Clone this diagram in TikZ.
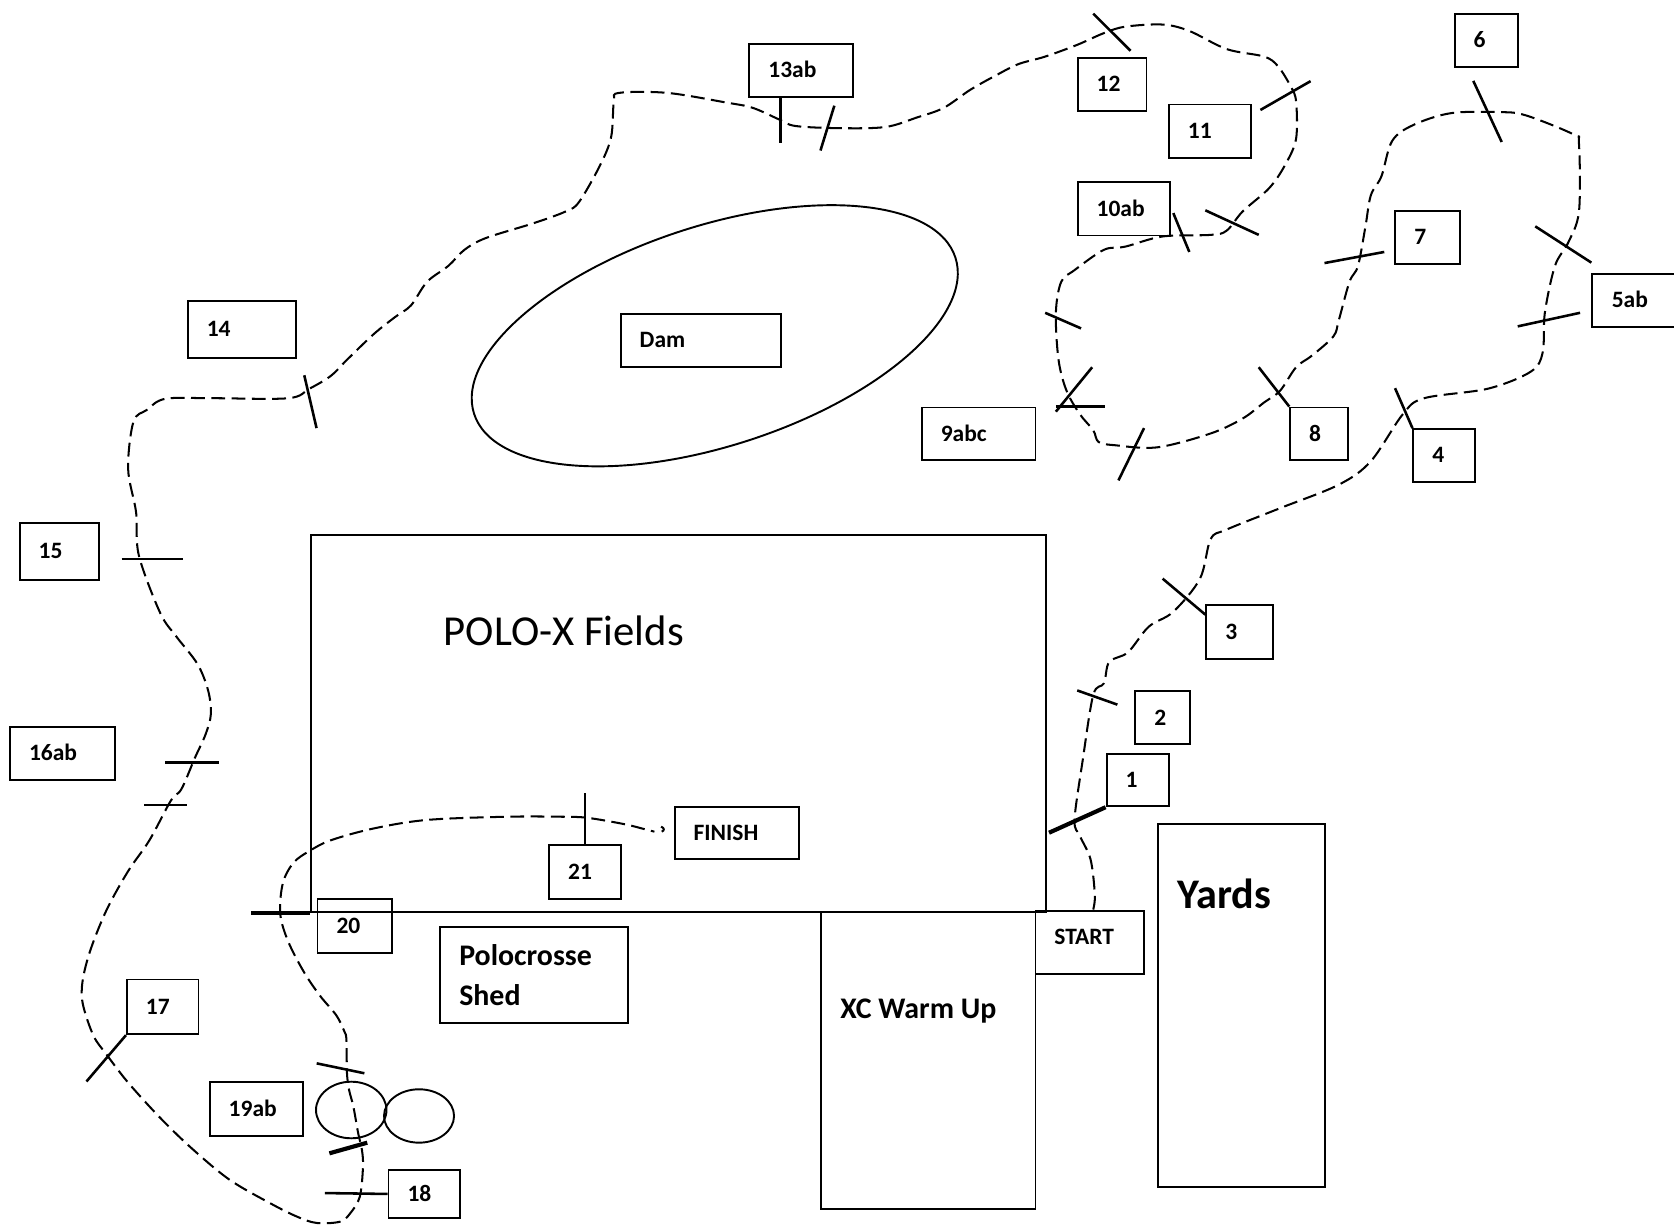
\documentclass[tikz,border=0pt]{standalone}
\usepackage{fontspec}
\setmainfont{Carlito}
\usetikzlibrary{calc}
\newcommand\bx[5]{\node[box, minimum width={#4-#2}, minimum height={#5-#3}] (#1) at (#2,#3) {};}
\begin{document}
\begin{tikzpicture}[x=1pt,y=-1pt,
  box/.style={draw, line width=1.8pt, inner sep=0pt, anchor=north west},
  lbl/.style={anchor=base west, inner sep=0pt, font=\fontsize{22}{26}\selectfont\bfseries},
  big/.style={anchor=base west, inner sep=0pt, font=\fontsize{28}{33}\selectfont\bfseries},
  route/.style={line width=1.9pt, dash pattern=on 13pt off 6pt},
  tk/.style={line width=2.4pt},
  tkk/.style={line width=3.9pt},
  shape line/.style={line width=1.8pt}]
\useasboundingbox (0,0) rectangle (1568,1148);
% ---- areas ----
\bx{field}{290}{500}{979}{853.6}
\bx{xc}{768.5}{853.6}{969}{1131.5}
\bx{start}{969}{852}{1070.6}{911}
\bx{yards}{1084}{771}{1240.6}{1110.6}
\bx{shed}{411.5}{867.1}{587}{957.6}
\draw[shape line, rotate around={18:(669.5,314.5)}] (669.5,314.5) ellipse [x radius=237, y radius=103];
\draw[shape line] (329,1039.7) ellipse [x radius=33, y radius=26.5];
\draw[shape line] (392.5,1045.3) ellipse [x radius=32.8, y radius=25];
% ---- boxes ----
\bx{b13}{701}{40}{798}{90}
\bx{b12}{1008.5}{53.5}{1073}{103}
\bx{b11}{1094}{97}{1170.6}{146.8}
\bx{b6}{1361.6}{12}{1421}{62}
\bx{b10}{1008.5}{169.5}{1094.6}{219.7}
\bx{b7}{1306}{196.6}{1366.6}{246.4}
\coordinate (b5) at (1491,281.2);
\draw[line width=1.8pt] (1570,256.3) -- (1491,256.3) -- (1491,306) -- (1570,306);
\bx{b14}{175}{281}{276}{334.3}
\bx{dam}{580.5}{293}{731}{343}
\bx{b9}{862.5}{380.8}{969}{430.2}
\bx{b8}{1207.6}{380.8}{1261.6}{430.2}
\bx{b4}{1323}{401}{1380.7}{450.4}
\bx{b15}{17.5}{488.8}{91.5}{542}
\bx{b3}{1129}{565.7}{1191.6}{616.3}
\bx{b2}{1062.6}{646.7}{1114}{696.1}
\bx{b1}{1035.6}{705}{1094}{754.3}
\bx{b16}{8.5}{679.7}{106.5}{729.5}
\bx{finish}{631}{754.7}{747.5}{803.8}
\bx{b21}{513.5}{791}{581}{840.8}
\bx{b20}{296.5}{840.8}{366}{891.7}
\bx{b17}{118}{916.6}{185}{967.8}
\bx{b19}{195.5}{1012.9}{283}{1063}
\bx{b18}{363}{1095.3}{430}{1139.6}
% ---- labels ----
\node[lbl] (l13) at ($(b13.west)+(18.5,7)$) {13ab};
\node[lbl] (l12) at ($(b12.west)+(18.5,7)$) {12};
\node[lbl] (l11) at ($(b11.west)+(18.5,7)$) {11};
\node[lbl] (l6) at ($(b6.west)+(18.5,7)$) {6};
\node[lbl] (l10) at ($(b10.west)+(18.5,7)$) {10ab};
\node[lbl] (l7) at ($(b7.west)+(18.5,7)$) {7};
\node[lbl] (l5) at ($(b5)+(18.5,7)$) {5ab};
\node[lbl] (l14) at ($(b14.west)+(18.5,7)$) {14};
\node[lbl] (ldam) at ($(dam.west)+(18.5,7)$) {Dam};
\node[lbl] (l9) at ($(b9.west)+(18.5,7)$) {9abc};
\node[lbl] (l8) at ($(b8.west)+(18.5,7)$) {8};
\node[lbl] (l4) at ($(b4.west)+(18.5,7)$) {4};
\node[lbl] (l15) at ($(b15.west)+(18.5,7)$) {15};
\node[lbl] (l3) at ($(b3.west)+(18.5,7)$) {3};
\node[lbl] (l2) at ($(b2.west)+(18.5,7)$) {2};
\node[lbl] (l1) at ($(b1.west)+(18.5,7)$) {1};
\node[lbl] (l16) at ($(b16.west)+(18.5,7)$) {16ab};
\node[lbl] (lfin) at ($(finish.west)+(18.5,7)$) {FINISH};
\node[lbl] (l21) at ($(b21.west)+(18.5,7)$) {21};
\node[lbl] (l20) at ($(b20.west)+(18.5,7)$) {20};
\node[lbl] (lstart) at (987.5,885) {START};
\node[lbl] (l17) at ($(b17.west)+(18.5,7)$) {17};
\node[lbl] (l19) at ($(b19.west)+(18.5,7)$) {19ab};
\node[lbl] (l18) at ($(b18.west)+(18.5,7)$) {18};
\node[big] (lshed1) at (430,904) {Polocrosse};
\node[big] (lshed2) at (430,942) {Shed};
\node[big] (lxc) at (787,954) {XC Warm Up};
\node[anchor=base west, inner sep=0pt, font=\fontsize{39.5}{46}\selectfont\bfseries] (lyards) at (1102.5,850.5) {Yards};
\node[anchor=base west, inner sep=0pt, font=\fontsize{40}{47}\selectfont] (lfield) at (415.5,605) {POLO-X Fields};
% ---- route ----
\draw[route] plot[smooth, tension=0.55] coordinates {
(1024,852) (1025.5,838) (1021.5,805) (1011.5,783) (1006.5,768) (1014,713) (1024,651) (1034,640) (1039,620) (1056.5,611) (1076,587) (1099,573) (1124,542) (1134,505) (1149,496) (1199,476) (1254,454) (1284,432) (1314,388) (1334,373) (1394,364) (1434,348) (1445,330) (1447,293) (1456.5,249) (1469,227) (1479,198) (1479,135) (1474,126) (1429,108) (1404,105) (1359,106) (1324,117) (1304,132) (1294,165) (1284,183) (1279,212) (1272,249) (1264,264) (1254,300) (1249,315) (1229,333) (1214,344) (1199,366) (1184,377) (1164,392) (1134,406) (1084,419) (1044,417) (1029,414) (1024,403) (1011.5,388) (999,366) (991.5,337) (989,293) (994,264) (1006.5,253) (1034,234) (1054,231) (1089,221.5) (1134,220) (1149,216) (1164,198) (1189,176) (1204,154) (1214,130) (1214,95) (1209,81) (1197,62) (1184,53) (1149,46) (1114,29) (1089,23) (1054,25) (1034,31) (1009,42) (979,53) (954,60) (934,70) (909,84) (884,101) (859,110) (829,119) (784,120) (745,118) (730,112) (705,101) (680,96) (625,87) (580,87) (575,95) (572.5,128) (562.5,154) (542.5,189) (530,198) (500,209) (455,223) (435,234) (420,249) (400,264) (385,286) (370,297) (350,313) (325,337) (310,352) (290,364) (270,373) (200,373) (155,373.5) (137.5,384) (125,395) (120,439) (127.5,480) (130,520) (150,574) (165,596) (185,622) (195,647) (197.5,669) (192.5,688) (182.5,710) (170,739) (160,750) (140,787) (120,816) (100,852) (85,889) (77.5,918) (77.5,940) (87.5,970) (100,988) (120,1014) (150,1047) (180,1076) (215,1105) (253,1127) (278,1139.5) (296.5,1145.5) (318.5,1144.3) (328,1136.5) (337,1121) (340,1093) (339,1077) (335.5,1061.5) (331,1036.5) (327,1021) (325,1005) (324.5,974) (322.5,966) (315,951) (300,933) (285,911) (270,882) (262.5,856) (265,827) (275,808) (290,797) (310,787) (350,776) (400,768) (475,765) (525,765) (550,766) (585,772) (605,777) (613,779)};
\draw[line width=1.9pt] (619.2,774.3) .. controls (622.5,775.5) and (622.5,778) .. (619.8,779);
% ---- gate ticks ----
\draw[tk] ($(b13.south west)+(30,0)$) -- +(0,42.5);
\draw[tk] (781.5,99) -- (768.5,141);
\draw[tk] (1024,12.8) -- (1059,47.6);
\draw[tk] (1180.6,103) -- (1227.6,76);
\draw[tk] (1380,75.8) -- (1406.6,133);
\draw[tk] (1099,199.6) -- (1114,236);
\draw[tk] (1129,197) -- (1179,220);
\draw[tk] (1240.6,246.4) -- (1296.6,236);
\draw[tk] (1438,212) -- (1490.6,246);
\draw[tk] (1421.6,305.7) -- (1480,293);
\draw[tk] (979,293) -- (1012.6,307.6);
\draw[tk] (1023,344) -- (989,385.6);
\draw[tk] (989,381) -- (1035,381);
\draw[tk] (1071.6,401) -- (1047.6,450);
\draw[tk] (b8.north west) -- (1179,344);
\draw[tk] (b4.north west) -- (1306.7,363.6);
\draw[tk] ($(b3.north west)+(0,10)$) -- (1089,542);
\draw[tk] (1009,646.7) -- (1046.6,660);
\draw[tkk] (b1.south west) -- (982.6,780);
\draw[tk] (285,351.5) -- (296.5,401);
\draw[tk] (114,523.6) -- (171.5,523.6);
\draw[tk] (155,714) -- (205,714);
\draw[tk] (135,754) -- (175,754);
\draw[tk] (b17.south west) -- (81,1013);
\draw[tkk] (field.south west) -- +(-55,0);
\draw[tk] (b21.north) -- +(0,-48);
\draw[tk] (296.6,996) -- (341.3,1005.3);
\draw[tkk] (308.5,1080.3) -- (344,1070.3);
\draw[tk] (b18.west) -- (304.4,1117.5);
\end{tikzpicture}
\end{document}
